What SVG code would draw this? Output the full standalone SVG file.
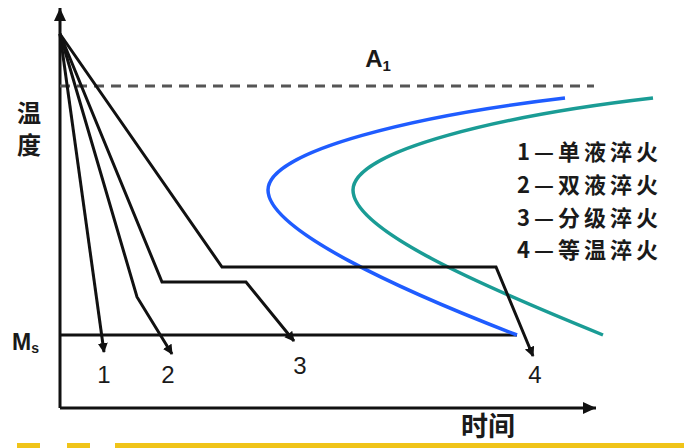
<svg xmlns="http://www.w3.org/2000/svg" width="684" height="448" viewBox="0 0 684 448">
<style>
.ln{fill:none;stroke:#111;stroke-width:3;stroke-linejoin:miter}
.ax{fill:none;stroke:#111;stroke-width:3}
.lbl{font-family:"Liberation Sans","Noto Sans CJK SC",sans-serif;fill:#1a1a1a}
.cjk{font-family:"Noto Sans CJK SC","Liberation Sans",sans-serif;font-weight:bold;fill:#1a1a1a}
.lg{font-size:22px;letter-spacing:4px}
</style>
<defs>
<marker id="axArr" markerUnits="userSpaceOnUse" markerWidth="16" markerHeight="14" refX="13" refY="6" orient="auto">
<path d="M0,0 L13,6 L0,12 Z" fill="#111"/>
</marker>
<marker id="cArr" markerUnits="userSpaceOnUse" markerWidth="12" markerHeight="12" refX="9" refY="5" orient="auto">
<path d="M0,0 L10,5 L0,10 Z" fill="#111"/>
</marker>
</defs>
<rect width="684" height="448" fill="#ffffff"/>

<g id="axes">
<path class="ax" d="M60,408 L60,8" marker-end="url(#axArr)"/>
<path class="ax" d="M60,408 L596,408" marker-end="url(#axArr)"/>
<line x1="60" y1="86" x2="594" y2="86" stroke="#555" stroke-width="3" stroke-dasharray="10 7"/>
<line x1="60" y1="335" x2="517" y2="335" stroke="#111" stroke-width="3"/>
</g>

<g id="c-curves">
<path d="M565,98 C420,115 268,150 268,190 C268,230 400,290 517,335" fill="none" stroke="#1f5cff" stroke-width="3.5"/>
<path d="M653,98 C505,115 353,150 353,190 C353,230 480,285 603,335" fill="none" stroke="#1a9c95" stroke-width="3.5"/>
</g>

<g id="cooling">
<path class="ln" d="M60,34 L104,352" marker-end="url(#cArr)"/>
<path class="ln" d="M60,34 L137,297 L172,354" marker-end="url(#cArr)"/>
<path class="ln" d="M60,34 L162,282 L246,282 L294,341" marker-end="url(#cArr)"/>
<path class="ln" d="M60,34 L222,267 L496,267 L533,356" marker-end="url(#cArr)"/>
</g>

<g id="labels">
<text class="lbl" x="378" y="67" font-size="24" font-weight="bold" text-anchor="middle">A<tspan font-size="15" dy="4">1</tspan></text>
<text class="lbl" x="12" y="350" font-size="23" font-weight="bold">M<tspan font-size="14" dy="3">s</tspan></text>
<text class="lbl" x="104" y="383" font-size="24" text-anchor="middle">1</text>
<text class="lbl" x="168" y="383" font-size="24" text-anchor="middle">2</text>
<text class="lbl" x="300" y="374" font-size="24" text-anchor="middle">3</text>
<text class="lbl" x="535" y="383" font-size="24" text-anchor="middle">4</text>
<text class="cjk" x="29" font-size="24" text-anchor="middle"><tspan x="29" y="122">温</tspan><tspan x="29" y="154">度</tspan></text>
<text class="cjk" x="488" y="436" font-size="27" text-anchor="middle">时间</text>
</g>

<g id="legend">
<text class="cjk lg" x="517" y="160">1—单液淬火</text>
<text class="cjk lg" x="517" y="193">2—双液淬火</text>
<text class="cjk lg" x="517" y="226">3—分级淬火</text>
<text class="cjk lg" x="517" y="258">4—等温淬火</text>
</g>

<g id="footer">
<rect x="17" y="443" width="23" height="5" fill="#f0c419"/>
<rect x="67" y="443" width="23" height="5" fill="#f0c419"/>
<rect x="115" y="443" width="569" height="5" fill="#f0c419"/>
</g>
</svg>
